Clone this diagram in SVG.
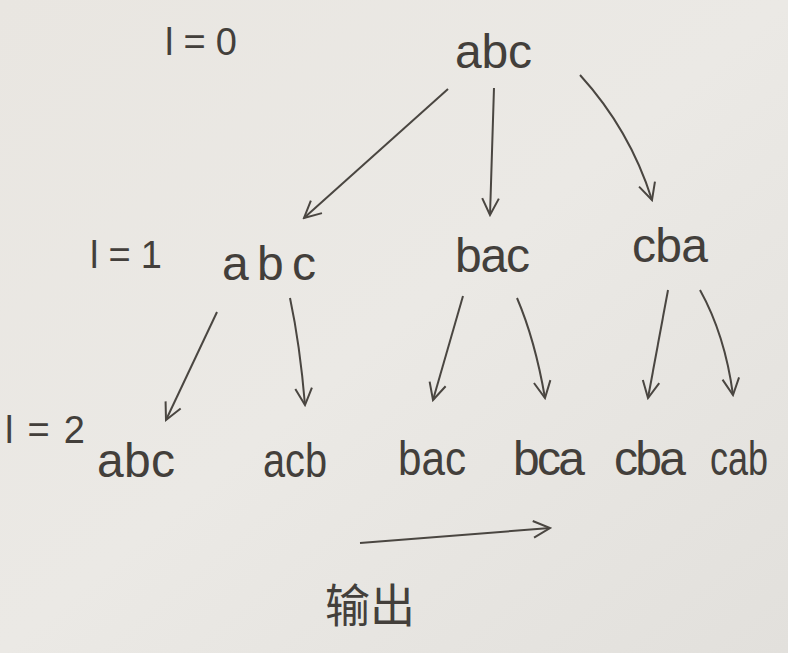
<svg xmlns="http://www.w3.org/2000/svg" width="788" height="653" viewBox="0 0 788 653">
<defs>
<linearGradient id="paper" x1="0" y1="0" x2="1" y2="1">
<stop offset="0" stop-color="#e9e6e1"/>
<stop offset="0.5" stop-color="#ebe9e5"/>
<stop offset="1" stop-color="#e2e0dc"/>
</linearGradient>
<marker id="arr" viewBox="0 0 12 12" refX="11" refY="6" markerWidth="20" markerHeight="20" markerUnits="userSpaceOnUse" orient="auto">
<path d="M1,1 L11,6 L1,11" fill="none" stroke="#4a4641" stroke-width="1.2"/>
</marker>
<style>
.t{font-family:"Liberation Sans","Noto Sans CJK SC",sans-serif;fill:#433f3b;font-weight:normal}
.n{font-size:48px}
.lv{font-size:38px}
.c{fill:none;stroke:#4a4641;stroke-width:2;marker-end:url(#arr)}
</style>
</defs>
<rect width="788" height="653" fill="url(#paper)"/>
<g id="levels">
<text class="t lv" x="165" y="55" textLength="72" lengthAdjust="spacing">l=0</text>
<text class="t lv" x="90" y="268" textLength="72" lengthAdjust="spacing">l=1</text>
<text class="t lv" x="5" y="443" textLength="80" lengthAdjust="spacing">l=2</text>
</g>
<g id="root"><text class="t n" x="455" y="68" textLength="77" lengthAdjust="spacing">abc</text></g>
<g id="l1-abc"><text class="t n" x="222" y="280" textLength="94" lengthAdjust="spacing">abc</text></g>
<g id="l1-bac"><text class="t n" x="455" y="272" textLength="75" lengthAdjust="spacing">bac</text></g>
<g id="l1-cba"><text class="t n" x="632" y="262" textLength="76" lengthAdjust="spacing">cba</text></g>
<g id="l2-abc"><text class="t n" x="97" y="477" textLength="78" lengthAdjust="spacing">abc</text></g>
<g id="l2-acb"><text class="t n" x="263" y="477" textLength="64" lengthAdjust="spacingAndGlyphs">acb</text></g>
<g id="l2-bac"><text class="t n" x="398" y="475" textLength="68" lengthAdjust="spacingAndGlyphs">bac</text></g>
<g id="l2-bca"><text class="t n" x="513" y="475" textLength="72" lengthAdjust="spacing">bca</text></g>
<g id="l2-cba"><text class="t n" x="614" y="475" textLength="72" lengthAdjust="spacing">cba</text></g>
<g id="l2-cab"><text class="t n" x="710" y="475" textLength="58" lengthAdjust="spacingAndGlyphs">cab</text></g>
<g id="output"><text class="t" x="325" y="622" font-size="46" textLength="90" lengthAdjust="spacingAndGlyphs">输出</text></g>
<g id="connectors">
<path class="c" d="M448,89 Q380,150 304,218"/>
<path class="c" d="M494,88 L490,215"/>
<path class="c" d="M580,75 Q630,130 652,200"/>
<path class="c" d="M217,312 L166,420"/>
<path class="c" d="M290,298 Q300,345 305,405"/>
<path class="c" d="M463,296 L433,400"/>
<path class="c" d="M517,298 Q535,340 545,398"/>
<path class="c" d="M668,290 L648,398"/>
<path class="c" d="M700,290 Q725,335 733,395"/>
<path class="c" d="M360,543 L550,528"/>
</g>
</svg>
